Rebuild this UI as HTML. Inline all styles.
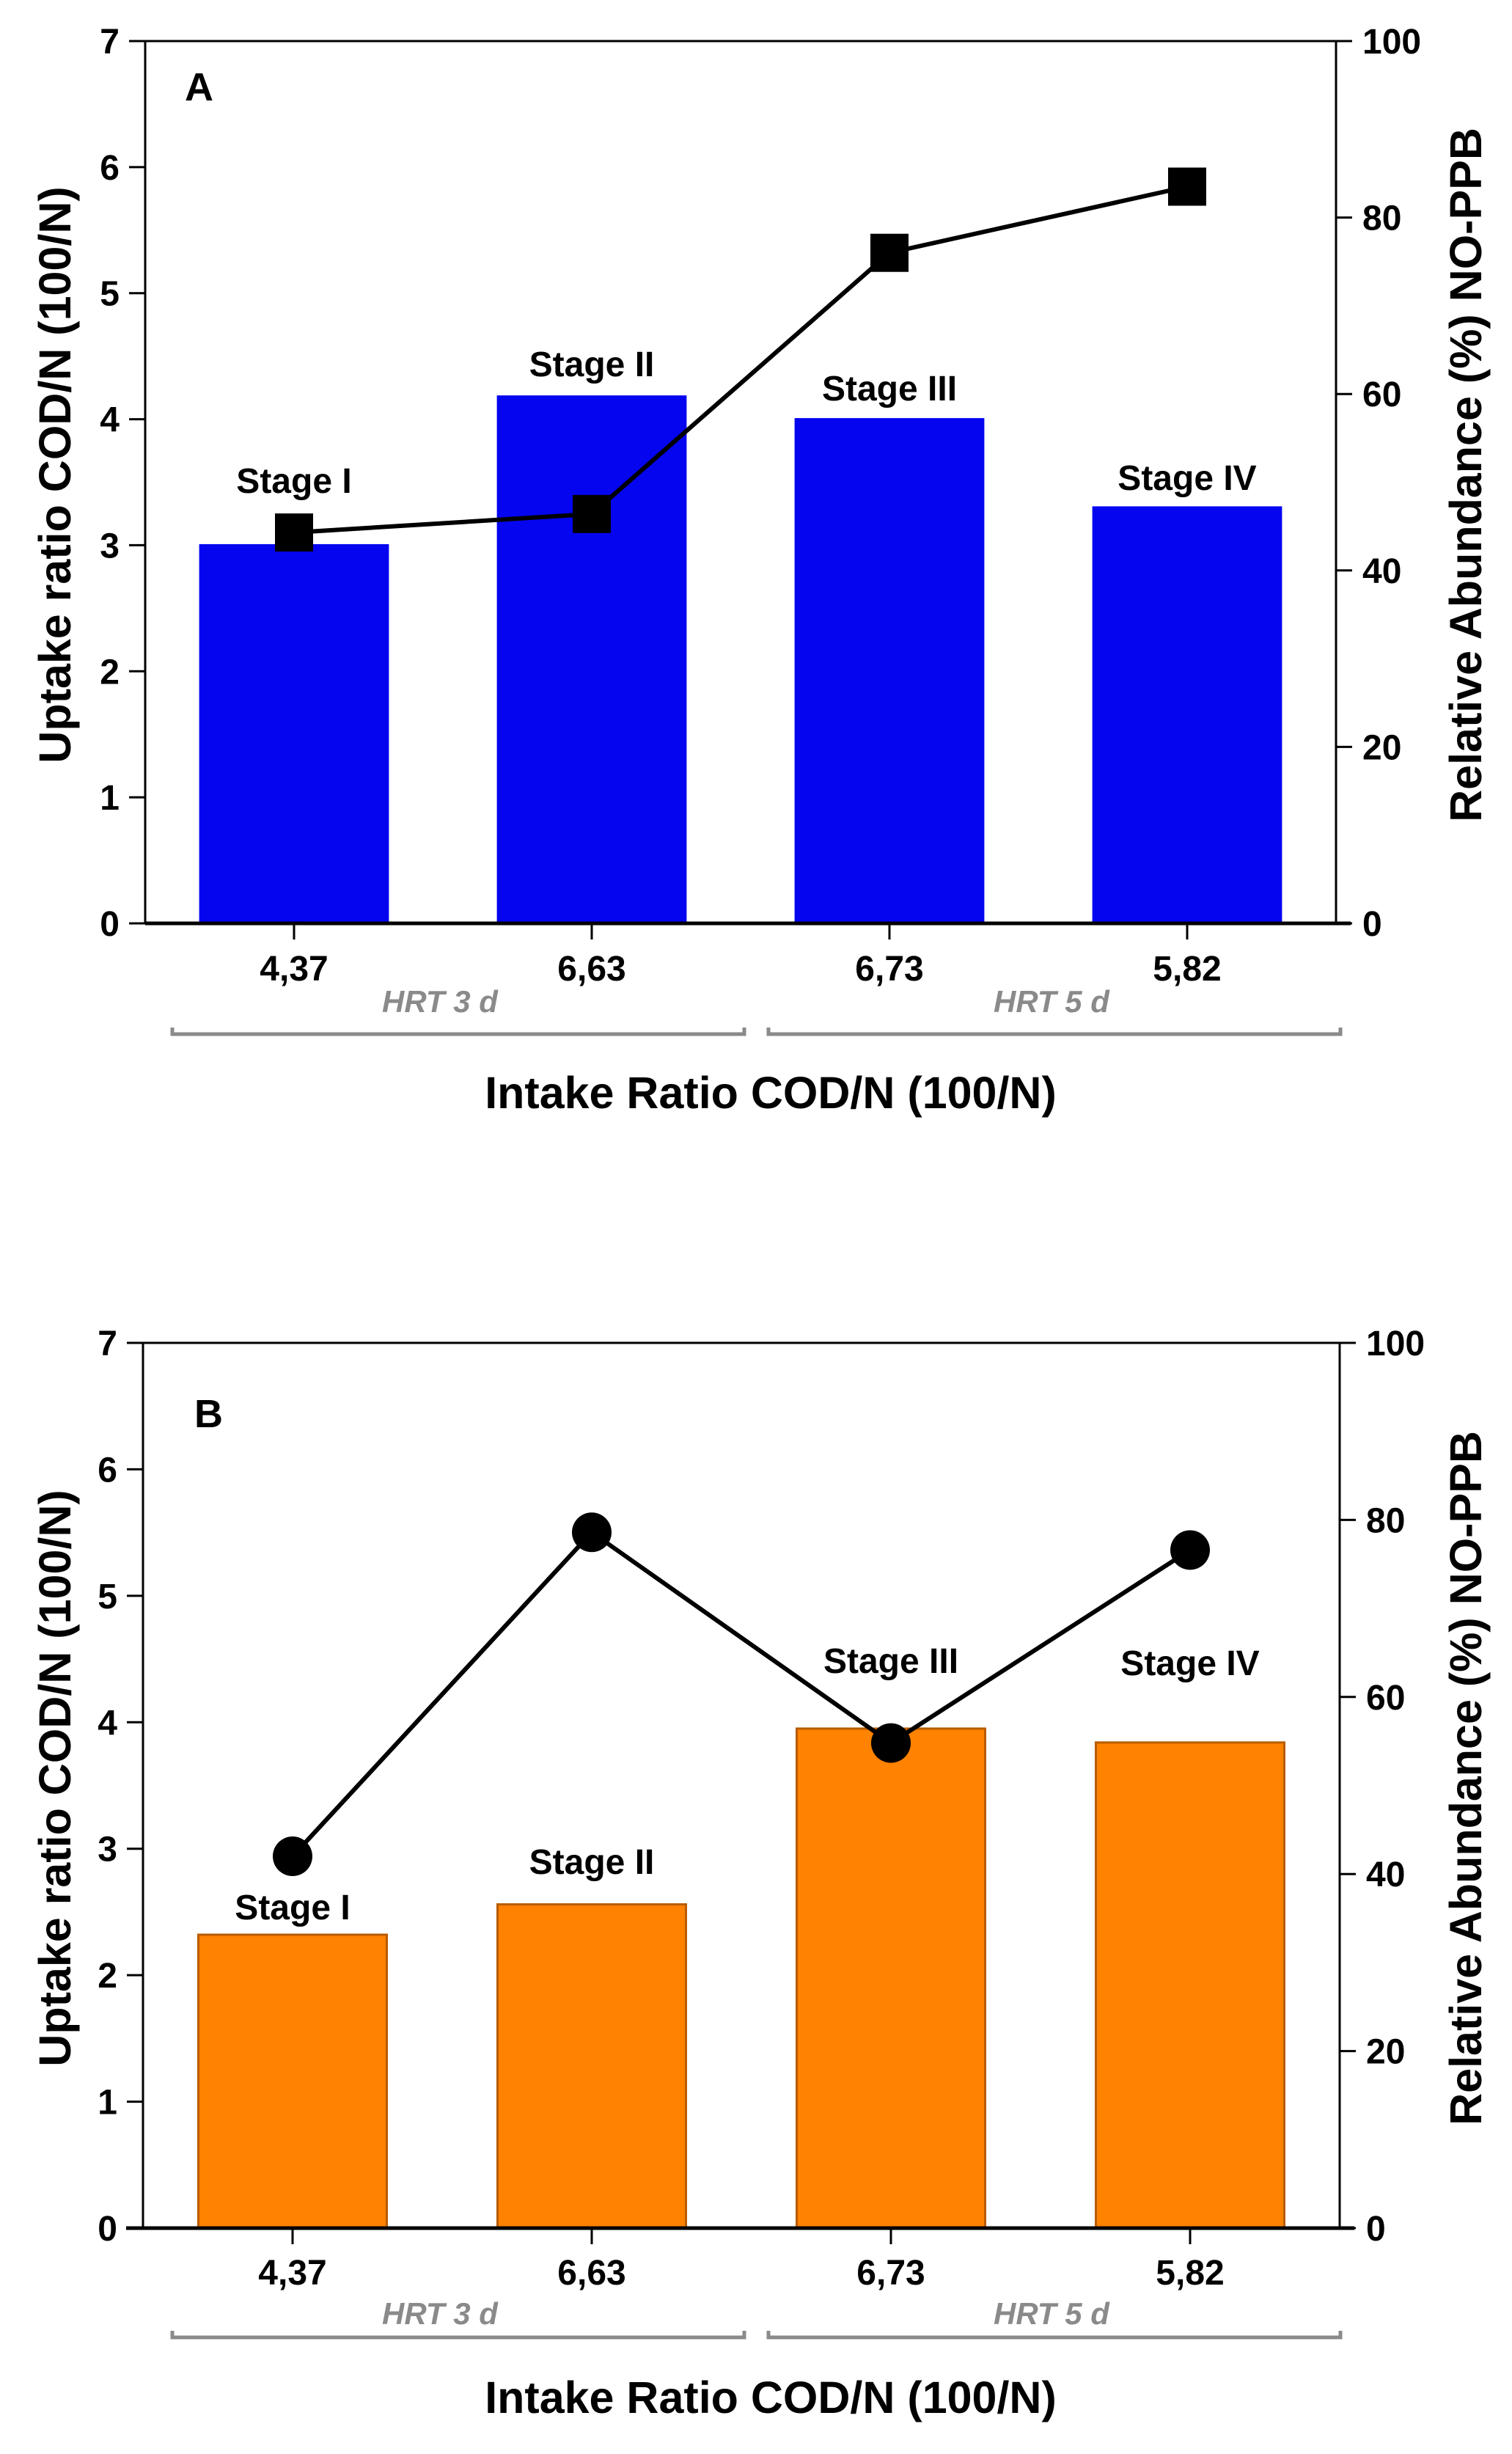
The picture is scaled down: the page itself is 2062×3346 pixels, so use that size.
<!DOCTYPE html>
<html><head><meta charset="utf-8"><style>
html,body{margin:0;padding:0;background:#fff}
svg{display:block}
text{font-family:"Liberation Sans",Arial,sans-serif;font-weight:bold;fill:#000}
</style></head><body>
<svg id="chart" width="2062" height="3346" viewBox="0 0 2062 3346" xmlns="http://www.w3.org/2000/svg"></svg>
<script>
const categories = ["4,37", "6,63", "6,73", "5,82"];
const stageLabels = ["Stage I", "Stage II", "Stage III", "Stage IV"];
const uptakeA = [3.0, 4.18, 4.0, 3.3];
const abundanceA = [44.3, 46.4, 76.0, 83.5];
const uptakeB = [2.32, 2.56, 3.95, 3.84];
const abundanceB = [42.0, 78.6, 54.8, 76.6];
const leftTicks = [0, 1, 2, 3, 4, 5, 6, 7];
const rightTicks = [0, 20, 40, 60, 80, 100];
const hrtLabels = ["HRT 3 d", "HRT 5 d"];

const NS = "http://www.w3.org/2000/svg";
const svg = document.getElementById("chart");
function mk(tag, attrs, parent, txt) {
  const e = document.createElementNS(NS, tag);
  for (const k in attrs) e.setAttribute(k, attrs[k]);
  if (txt !== undefined) e.textContent = txt;
  (parent || svg).appendChild(e);
  return e;
}

function panel(cfg) {
  const g = mk("g", {});
  
  
  const L = cfg.left, R = cfg.right, T = cfg.top, B = cfg.bottom;
  const band = (R - L) / categories.length;
  const xC = i => L + band * (i + 0.5);
  const yL = v => B - (v / 7) * (B - T);
  const yR = v => B - (v / 100) * (B - T);
  const bw = band * 0.63;

  cfg.bars.forEach((v, i) => {
    const r = mk("rect", {x: xC(i) - bw / 2, y: yL(v), width: bw, height: B - yL(v), fill: cfg.fill, stroke: cfg.stroke, "stroke-width": 3}, g);
    
    
  });
  const fr = mk("path", {d: `M${L},${B} L${L},${T} L${R},${T} L${R},${B}`, fill: "none", stroke: "#000", "stroke-width": 3}, g);
  
  
  const xa = mk("line", {x1: cfg.axisLeft, y1: B, x2: R + 20, y2: B, stroke: "#000", "stroke-width": 5}, g);
  
  

  leftTicks.forEach(t => {
    const y = yL(t);
    const l = mk("line", {x1: L - 22, y1: y, x2: L, y2: y, stroke: "#000", "stroke-width": 3}, g);
    
    
    const tx = mk("text", {x: L - 35, y: y + 17, "font-size": 48, "text-anchor": "end"}, g, String(t));
    
    
  });
  rightTicks.forEach(t => {
    const y = yR(t);
    const l = mk("line", {x1: R, y1: y, x2: R + 22, y2: y, stroke: "#000", "stroke-width": 3}, g);
    
    
    const tx = mk("text", {x: R + 36, y: y + 17, "font-size": 48}, g, String(t));
    
    
  });
  categories.forEach((c, i) => {
    const l = mk("line", {x1: xC(i), y1: B, x2: xC(i), y2: B + 22, stroke: "#000", "stroke-width": 3}, g);
    
    
    const tx = mk("text", {x: xC(i), y: cfg.xLabelY, "font-size": 48, "text-anchor": "middle"}, g, c);
    
    
  });
  stageLabels.forEach((s, i) => {
    const tx = mk("text", {x: xC(i), y: cfg.stageY[i], "font-size": 48, "text-anchor": "middle"}, g, s);
    
    
  });
  const pts = cfg.line.map((v, i) => [xC(i), yR(v)]);
  const pl = mk("polyline", {points: pts.map(p => p.join(",")).join(" "), fill: "none", stroke: "#000", "stroke-width": 6}, g);
  
  
  pts.forEach(p => {
    let m;
    if (cfg.marker === "square") m = mk("rect", {x: p[0] - 26, y: p[1] - 26, width: 52, height: 52, fill: "#000"}, g);
    else m = mk("circle", {cx: p[0], cy: p[1], r: 27, fill: "#000"}, g);
    
    
  });
  const pt = mk("text", {x: cfg.letterX, y: cfg.letterY, "font-size": 54}, g, cfg.letter);
  
  
  const hx = [600, 1434];
  const br = [[235, 1015], [1048, 1828]];
  hrtLabels.forEach((h, i) => {
    const tx = mk("text", {x: hx[i], y: cfg.hrtY, "font-size": 42, "font-style": "italic", "text-anchor": "middle", style: "fill:#8a8a8a"}, g, h);
    
    
    const b = mk("path", {d: `M${br[i][0]},${cfg.brY - 9} L${br[i][0]},${cfg.brY} L${br[i][1]},${cfg.brY} L${br[i][1]},${cfg.brY - 9}`, fill: "none", stroke: "#8a8a8a", "stroke-width": 5}, g);
    
    
  });
  const xt = mk("text", {x: 1051, y: cfg.xTitleY, "font-size": 61, "text-anchor": "middle"}, g, "Intake Ratio COD/N (100/N)");
  
  
  const cy = (T + B) / 2;
  const yt = mk("text", {x: 0, y: 0, "font-size": 61, "text-anchor": "middle", transform: `translate(96,${cy - 10}) rotate(-90)`}, g, "Uptake ratio COD/N (100/N)");
  
  
  const rt = mk("text", {x: 0, y: 0, "font-size": 61, "text-anchor": "middle", transform: `translate(2020,${cy - 10}) rotate(-90)`}, g, "Relative Abundance (%) NO-PPB");
  
  
}

panel({name: "panel-a", left: 198, right: 1822, top: 56, bottom: 1259, axisLeft: 198,
  bars: uptakeA, line: abundanceA, fill: "#0505F0", stroke: "#0505F0", marker: "square",
  stageY: [672, 513, 546, 668], xLabelY: 1337, hrtY: 1380, brY: 1410, xTitleY: 1511,
  letter: "A", letterX: 252, letterY: 137});
const dy = 12;
panel({name: "panel-b", left: 195, right: 1827, top: 1819 + dy, bottom: 3026 + dy, axisLeft: 172,
  bars: uptakeB, line: abundanceB, fill: "#FF8200", stroke: "#B85C00", marker: "circle",
  stageY: [2605 + dy, 2543 + dy, 2269 + dy, 2272 + dy], xLabelY: 3103 + dy, hrtY: 3157 + dy, brY: 3175 + dy, xTitleY: 3278 + dy,
  letter: "B", letterX: 265, letterY: 1934 + dy});
</script>
</body></html>
